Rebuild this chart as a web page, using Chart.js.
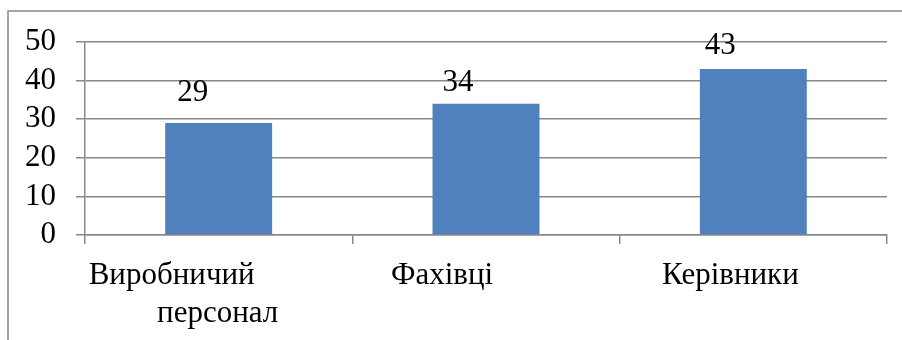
<!DOCTYPE html>
<html>
<head>
<meta charset="utf-8">
<script src="https://cdn.jsdelivr.net/npm/chart.js@4/dist/chart.umd.min.js"></script>
<style>
  html, body { margin: 0; padding: 0; background: #fff; }
  #wrap { width: 902px; height: 340px; }
</style>
</head>
<body>
<div id="wrap"><canvas id="staffChart" width="902" height="340"></canvas></div>
<script>
// categories and values
const categories = [['Виробничий', 'персонал'], ['Фахівці'], ['Керівники']];
const values = [29, 34, 43];
const yTicks = [0, 10, 20, 30, 40, 50];

const FONT = '"Liberation Serif", "Times New Roman", serif';
const FONT_SIZE = 31;
const GRID = '#888888';
const BAR = '#4f81bd';

// frame around the chart (only top and left edges are visible)
const frame = {
    id: 'frame',
    beforeDraw(chart) {
        const ctx = chart.ctx;
        ctx.save();
        ctx.strokeStyle = GRID;
        ctx.lineWidth = 1.5;
        ctx.beginPath();
        ctx.moveTo(8, chart.height);
        ctx.lineTo(8, 11);
        ctx.lineTo(chart.width, 11);
        ctx.stroke();
        ctx.restore();
    }
};

// number above each bar, shifted a bit to the left
const valueLabels = {
    id: 'valueLabels',
    afterDatasetsDraw(chart, args, opts) {
        const ctx = chart.ctx;
        const meta = chart.getDatasetMeta(0);
        ctx.save();
        ctx.font = FONT_SIZE + 'px ' + FONT;
        ctx.fillStyle = '#000';
        ctx.textAlign = 'center';
        ctx.textBaseline = 'middle';
        meta.data.forEach((bar, i) => {
            const v = chart.data.datasets[0].data[i];
            ctx.fillText(String(v), bar.x + opts.dx[i], bar.y - opts.dy[i]);
        });
        ctx.restore();
    }
};

// category names under the axis, each line with its own offset
const categoryLabels = {
    id: 'categoryLabels',
    afterDraw(chart, args, opts) {
        const ctx = chart.ctx;
        const xScale = chart.scales.x;
        ctx.save();
        ctx.font = FONT_SIZE + 'px ' + FONT;
        ctx.fillStyle = '#000';
        ctx.textAlign = 'center';
        ctx.textBaseline = 'alphabetic';
        categories.forEach((lines, i) => {
            const cx = xScale.getPixelForTick(i);
            lines.forEach((line, j) => {
                ctx.fillText(line, cx + opts.dx[i][j], opts.baseline + j * opts.lineHeight);
            });
        });
        ctx.restore();
    }
};

new Chart(document.getElementById('staffChart'), {
    type: 'bar',
    data: {
        labels: categories,
        datasets: [{
            data: values,
            backgroundColor: BAR,
            borderWidth: 0,
            barPercentage: 0.4,
            categoryPercentage: 1.0
        }]
    },
    options: {
        responsive: false,
        animation: false,
        events: [],
        layout: { padding: { left: 0, right: 15, top: 42, bottom: 0 } },
        plugins: {
            legend: { display: false },
            tooltip: { enabled: false },
            valueLabels: { dx: [-26, -28, -33], dy: [30, 21, 23] },
            categoryLabels: { dx: [[-47, -1], [-44], [-23]], baseline: 284, lineHeight: 38 }
        },
        scales: {
            x: {
                offset: true,
                grid: {
                    offset: true,
                    drawOnChartArea: false,
                    drawTicks: true,
                    tickLength: 9,
                    color: GRID,
                    lineWidth: 1.5
                },
                border: { color: GRID, width: 1.5 },
                ticks: { display: false },
                afterFit(scale) { scale.height = 105; }
            },
            y: {
                min: 0,
                max: 50,
                afterBuildTicks(scale) {
                    scale.ticks = yTicks.map(v => ({ value: v }));
                },
                grid: {
                    color: GRID,
                    lineWidth: 1.5,
                    drawTicks: true,
                    tickLength: 9
                },
                border: { color: GRID, width: 1.5 },
                ticks: {
                    color: '#000',
                    padding: 20,
                    autoSkip: false,
                    font: { family: FONT, size: FONT_SIZE }
                },
                afterFit(scale) { scale.width = 85; }
            }
        }
    },
    plugins: [frame, valueLabels, categoryLabels]
});
</script>
</body>
</html>
